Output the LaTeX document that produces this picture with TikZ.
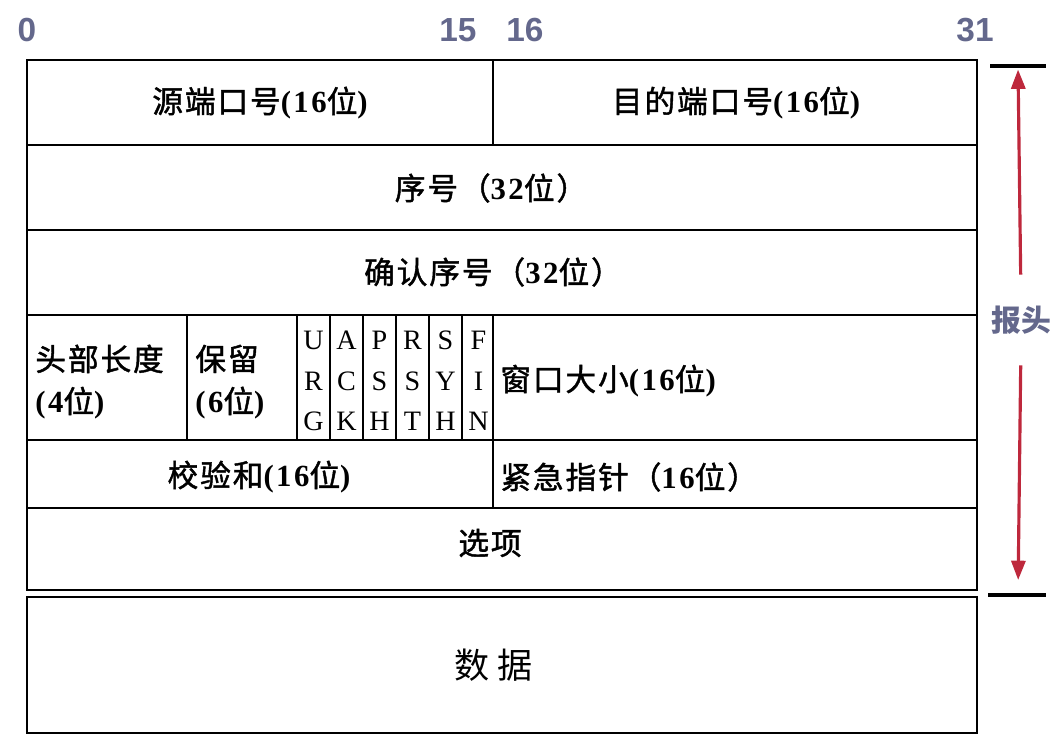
\documentclass[tikz,border=0pt]{standalone}
\usepackage{fontspec}
\setmainfont[LetterSpace=8]{Liberation Serif}
\newfontfamily\cjk[LetterSpace=6, FakeBold=1.4]{Noto Sans CJK SC}
\newfontfamily\cjkplain{Noto Sans CJK SC}
\newfontfamily\numfamily{Liberation Sans}
\usetikzlibrary{positioning, calc, arrows.meta}

\definecolor{numgray}{RGB}{100,104,140}
\definecolor{arrowred}{RGB}{190,40,60}
\newcommand{\zh}[1]{{\cjk\mdseries #1}}

\begin{document}
\begin{tikzpicture}[x=0.02cm, y=-0.02cm,
  field/.style={font=\bfseries\fontsize{17.5}{24}\selectfont, inner sep=0pt},
  flag/.style={font=\fontsize{16}{23}\selectfont, inner sep=0pt, align=center},
  bitnum/.style={font=\numfamily\bfseries\fontsize{19}{21}\selectfont, text=numgray},
  box/.style={line width=1pt},
  hdbar/.style={line width=2.2pt},
  hdarrow/.style={draw=arrowred, line width=1.8pt, -{Triangle[length=11pt,width=8pt]}}]

\useasboundingbox (0,0) rectangle (1059,744);

% bit positions
\node[bitnum] (b0) at (27,30) {0};
\node[bitnum] (b15) at (458,30) {15};
\node[bitnum] (b16) at (525,30) {16};
\node[bitnum] (b31) at (975,30) {31};

% header frame and rows
\draw[box] (27,60) rectangle (977,590);
\draw[box, line width=1.6pt] (27,60) -- (977,60);
\foreach \y in {145,230,315,440,508}
  \draw[box] (27,\y) -- (977,\y);
\draw[box] (493,60) -- (493,145);
\draw[box] (493,440) -- (493,508);
\foreach \x in {187,297,330,363,396,429,462,493}
  \draw[box] (\x,315) -- (\x,440);

% row 1
\node[field] (srcport) at (260,103) {\zh{源端口号}(16\zh{位})};
\node[field] (dstport) at (736,103) {\zh{目的端口号}(16\zh{位})};
% row 2 and 3
\node[field] (seq) at (491,188) {\zh{序号（}32\zh{位）}};
\node[field] (ack) at (493,272) {\zh{确认序号（}32\zh{位）}};

% row 4
\node[field, anchor=west, align=left] (hlen) at (35,382) {\zh{头部长度}\\(4\zh{位})};
\node[field, anchor=west, align=left] (rsvd) at (195,382) {\zh{保留}\\(6\zh{位})};
\foreach \a/\b/\c [count=\i] in {U/R/G, A/C/K, P/S/H, R/S/T, S/Y/H, F/I/N}
  \node[flag] (flag\i) at ({313.5+33*(\i-1)},381) {\a\\\b\\\c};
\node[field, anchor=west] (window) at (500,381) {\zh{窗口大小}(16\zh{位})};

% row 5 and 6
\node[field] (checksum) at (259,477) {\zh{校验和}(16\zh{位})};
\node[field, anchor=west] (urgent) at (500,477) {\zh{紧急指针（}16\zh{位）}};
\node[field] (options) at (490,543) {\zh{选项}};

% data
\draw[box] (27,597) rectangle (977,733);
\node[font=\cjkplain\fontsize{20}{22}\selectfont] (data) at (494,665) {数 据};

% header span
\coordinate (hdtop) at (1018,66);
\coordinate (hdbot) at (1018,595);
\draw[hdbar] (990,66) -- (1046,66);
\draw[hdbar] (988,595) -- (1046,595);
\node[font=\cjkplain\bfseries\fontsize{17}{19}\selectfont, text=numgray] (header) at (1021,320) {报头};
\draw[hdarrow, shorten <=0.5cm, shorten >=2pt] (header.north) -- (hdtop);
\draw[hdarrow, shorten <=0.5cm, shorten >=0.3cm] (header.south) -- (hdbot);

\end{tikzpicture}
\end{document}
